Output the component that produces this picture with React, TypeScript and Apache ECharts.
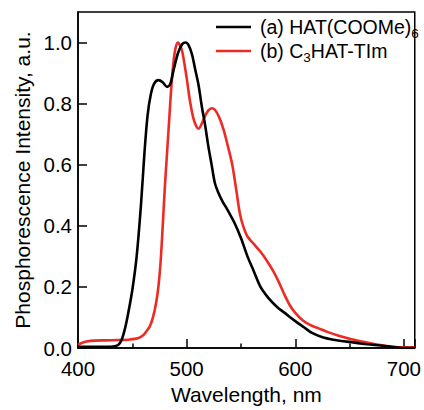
import React, { useEffect, useRef } from "react";
import * as echarts from "echarts";

const seriesNames = ["a", "b"];
const legendLabels = ["(a) HAT(COOMe){sub|6}", "(b) C{sub|3}HAT-TIm"];

const hatCOOMe: [number, number][] = [
  [400, 0.004], [420, 0.004], [432, 0.005], [437, 0.01], [440, 0.025], [443, 0.06],
  [446, 0.11], [450, 0.19], [454, 0.3], [458, 0.47], [461, 0.63], [464, 0.76],
  [467, 0.83], [470, 0.865], [474, 0.877], [478, 0.87], [482, 0.855], [485, 0.865],
  [488, 0.91], [492, 0.965], [496, 0.995], [499, 1.0], [502, 0.99], [505, 0.96],
  [508, 0.91], [511, 0.86], [514, 0.79], [517, 0.73], [520, 0.66], [523, 0.6],
  [526, 0.54], [529, 0.51], [533, 0.48], [538, 0.45], [544, 0.41], [550, 0.36],
  [556, 0.3], [562, 0.25], [568, 0.2], [575, 0.165], [583, 0.135], [592, 0.11],
  [600, 0.088], [608, 0.068], [615, 0.05], [625, 0.035], [635, 0.027], [645, 0.022],
  [660, 0.015], [676, 0.009], [690, 0.003], [700, 0.0], [710, 0.0],
];

const c3hatTIm: [number, number][] = [
  [400, 0.01], [404, 0.017], [408, 0.021], [415, 0.024], [425, 0.025], [438, 0.026],
  [448, 0.028], [455, 0.032], [460, 0.042], [463, 0.055], [466, 0.07], [469, 0.1],
  [472, 0.15], [474, 0.2], [476, 0.28], [478, 0.4], [480, 0.53], [482, 0.64],
  [484, 0.75], [486, 0.86], [488, 0.94], [490, 0.985], [492, 1.0], [494, 0.99],
  [496, 0.97], [498, 0.93], [500, 0.885], [503, 0.81], [506, 0.755], [509, 0.725],
  [511, 0.718], [514, 0.735], [517, 0.76], [520, 0.778], [523, 0.785], [526, 0.78],
  [530, 0.755], [534, 0.715], [538, 0.66], [542, 0.6], [546, 0.51], [549, 0.44],
  [552, 0.4], [556, 0.365], [562, 0.34], [568, 0.315], [574, 0.285], [580, 0.25],
  [585, 0.215], [590, 0.175], [595, 0.14], [600, 0.115], [607, 0.09], [614, 0.075],
  [621, 0.065], [630, 0.052], [640, 0.04], [650, 0.03], [660, 0.022], [670, 0.015],
  [680, 0.009], [690, 0.004], [700, 0.002], [710, 0.002],
];

const xTicks = { min: 400, max: 710, interval: 100 };
const yTicks = { min: 0, max: 1.1, interval: 0.2 };

const FONT = "'Liberation Sans', Arial, sans-serif";

export default function App() {
  const ref = useRef<HTMLDivElement>(null);
  useEffect(() => {
    if (!ref.current) return;
    const chart = echarts.init(ref.current, undefined, { renderer: "svg" });
    chart.setOption({
      animation: false,
      backgroundColor: "#fff",
      textStyle: { fontFamily: FONT, color: "#000" },
      grid: {
        left: 78,
        right: 6,
        top: 12,
        bottom: 59,
        show: true,
        borderColor: "#000",
        borderWidth: 1.5,
        backgroundColor: "transparent",
      },
      legend: {
        orient: "vertical",
        left: 216,
        top: 17,
        padding: 0,
        icon: "rect",
        itemWidth: 35,
        itemHeight: 2.6,
        itemGap: 0,
        data: seriesNames,
        formatter: (name: string) => legendLabels[seriesNames.indexOf(name)],
        textStyle: {
          fontFamily: FONT,
          fontSize: 19.5,
          color: "#000",
          padding: [0, 0, 0, 4],
          rich: {
            sub: { fontSize: 13.5, fontFamily: FONT, color: "#000", padding: [14, 0, 0, 0] },
          },
        },
      },
      xAxis: {
        type: "value",
        min: xTicks.min,
        max: xTicks.max,
        interval: xTicks.interval,
        name: "Wavelength, nm",
        nameLocation: "middle",
        nameGap: 36,
        nameTextStyle: { fontFamily: FONT, fontSize: 21, color: "#000" },
        axisLine: { show: true, onZero: false, lineStyle: { color: "#000", width: 1.5 } },
        axisTick: { show: true, inside: true, length: 9, lineStyle: { color: "#000", width: 1.5 } },
        minorTick: { show: true, splitNumber: 2, length: 4.5, lineStyle: { color: "#000", width: 1.5 } },
        axisLabel: {
          fontFamily: FONT,
          fontSize: 20.5,
          color: "#000",
          margin: 10,
          showMaxLabel: false,
          formatter: (v: number) => (v % 100 === 0 ? String(v) : ""),
        },
        splitLine: { show: false },
      },
      yAxis: {
        type: "value",
        min: yTicks.min,
        max: yTicks.max,
        interval: yTicks.interval,
        name: "Phosphorescence Intensity, a.u.",
        nameLocation: "middle",
        nameGap: 26,
        nameTextStyle: { fontFamily: FONT, fontSize: 21, color: "#000" },
        axisLine: { show: true, lineStyle: { color: "#000", width: 1.5 } },
        axisTick: { show: true, inside: true, length: 9, lineStyle: { color: "#000", width: 1.5 } },
        axisLabel: {
          fontFamily: FONT,
          fontSize: 20.5,
          color: "#000",
          margin: 6,
          showMaxLabel: false,
          formatter: (v: number) => v.toFixed(1),
        },
        splitLine: { show: false },
      },
      series: [
        {
          name: seriesNames[0],
          type: "line",
          data: hatCOOMe,
          symbol: "none",
          smooth: 0.3,
          lineStyle: { color: "#000", width: 2.6 },
          itemStyle: { color: "#000" },
          z: 3,
        },
        {
          name: seriesNames[1],
          type: "line",
          data: c3hatTIm,
          symbol: "none",
          smooth: 0.3,
          lineStyle: { color: "#ee2a24", width: 2.6 },
          itemStyle: { color: "#ee2a24" },
          z: 2,
        },
      ],
    });
    return () => chart.dispose();
  }, []);
  return <div ref={ref} style={{ width: 424, height: 410, position: "absolute", left: 0, top: 0 }} />;
}
